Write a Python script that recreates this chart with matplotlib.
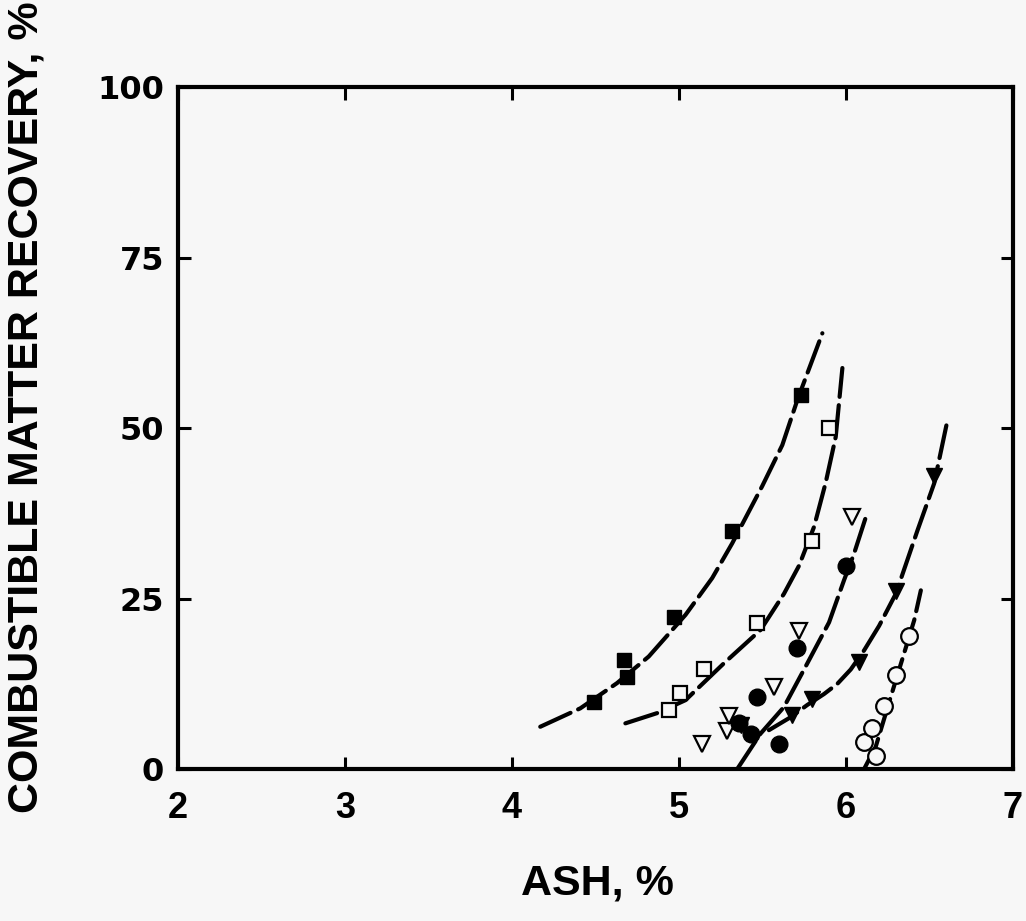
import matplotlib
matplotlib.use("Agg")
import matplotlib.pyplot as plt

# ---- data ----
sq_fill_x = [4.49, 4.67, 4.69, 4.97, 5.32, 5.73]
sq_fill_y = [9.8, 16.0, 13.5, 22.3, 34.9, 54.8]

sq_open_x = [4.94, 5.01, 5.15, 5.47, 5.80, 5.90]
sq_open_y = [8.7, 11.2, 14.6, 21.4, 33.5, 50.0]

tri_open_x = [5.14, 5.29, 5.30, 5.57, 5.72, 6.04]
tri_open_y = [3.6, 5.6, 7.8, 12.0, 20.2, 37.0]

circ_fill_x = [5.36, 5.43, 5.60, 5.47, 5.71, 6.00]
circ_fill_y = [6.8, 5.2, 3.6, 10.5, 17.7, 29.8]

tri_fill_x = [5.37, 5.68, 5.80, 6.08, 6.30, 6.53]
tri_fill_y = [6.5, 7.9, 10.3, 15.7, 26.1, 43.0]

circ_open_x = [6.11, 6.16, 6.18, 6.23, 6.30, 6.38]
circ_open_y = [4.0, 6.0, 1.9, 9.2, 13.8, 19.5]

# fitted curves
c1_x = [4.17, 4.41, 4.63, 4.82, 5.04, 5.20, 5.32, 5.50, 5.62, 5.71, 5.86]
c1_y = [6.2, 8.9, 12.6, 16.5, 22.6, 28.0, 33.1, 41.5, 47.5, 54.1, 63.9]
c2_x = [4.68, 4.87, 5.04, 5.27, 5.49, 5.63, 5.72, 5.81, 5.88, 5.94, 5.98]
c2_y = [6.7, 8.2, 10.1, 15.5, 20.4, 25.7, 29.8, 35.5, 42.0, 48.7, 58.8]
c3_x = [5.35, 5.49, 5.63, 5.77, 5.90, 5.99, 6.05, 6.12]
c3_y = [0.0, 5.2, 9.1, 15.5, 21.5, 27.7, 31.6, 36.9]
c4_x = [5.54, 5.67, 5.77, 5.87, 5.95, 6.03, 6.11, 6.20, 6.30, 6.43, 6.53, 6.61]
c4_y = [5.7, 7.6, 9.4, 11.0, 12.5, 14.6, 17.4, 21.0, 25.7, 35.0, 41.9, 51.2]
c5_x = [6.11, 6.18, 6.27, 6.35, 6.41, 6.45]
c5_y = [0.0, 3.3, 10.6, 17.0, 21.8, 26.2]

x_ticks = [2, 3, 4, 5, 6, 7]
y_ticks = [0, 25, 50, 75, 100]
x_label = "ASH, %"
y_label = "COMBUSTIBLE MATTER RECOVERY, %"

bg = "#f7f7f7"
fig = plt.figure(figsize=(10.26, 9.21), dpi=100, facecolor=bg)
ax = fig.add_axes([0.1735, 0.165, 0.8135, 0.7405], facecolor=bg)

line_kw = dict(color="black", lw=3.0, dashes=(8, 2), dash_capstyle="round")
for cx, cy in [(c1_x, c1_y), (c2_x, c2_y), (c3_x, c3_y), (c4_x, c4_y), (c5_x, c5_y)]:
    ax.plot(cx, cy, **line_kw)

ax.plot(sq_fill_x, sq_fill_y, "s", ms=10, mfc="black", mec="black", ls="none")
ax.plot(sq_open_x, sq_open_y, "s", ms=10, mfc=bg, mec="black", mew=1.6, ls="none")
ax.plot(tri_open_x, tri_open_y, "v", ms=12, mfc=bg, mec="black", mew=1.6, ls="none")
ax.plot(circ_fill_x, circ_fill_y, "o", ms=12, mfc="black", mec="black", ls="none")
ax.plot(tri_fill_x, tri_fill_y, "v", ms=11, mfc="black", mec="black", ls="none")
ax.plot(circ_open_x, circ_open_y, "o", ms=12, mfc=bg, mec="black", mew=1.6, ls="none")

ax.set_xlim(2, 7)
ax.set_ylim(0, 100)
ax.set_xticks(x_ticks)
ax.set_yticks(y_ticks)
ax.tick_params(direction="in", length=9, width=2.2, top=True, right=True)
ax.tick_params(axis="x", pad=16)
ax.tick_params(axis="y", pad=10)
for s in ax.spines.values():
    s.set_linewidth(3)

for t in ax.get_xticklabels():
    t.set_fontfamily("Liberation Sans")
    t.set_fontweight("bold")
    t.set_fontsize(26)
for t in ax.get_yticklabels():
    t.set_fontfamily("DejaVu Sans")
    t.set_fontweight("bold")
    t.set_fontsize(23)

ax.set_xlabel(x_label, fontsize=31, fontweight="bold", family="Liberation Sans")
ax.set_ylabel(y_label, fontsize=31, fontweight="bold", family="Liberation Sans")
ax.xaxis.set_label_coords(0.503, -0.138)
ax.yaxis.set_label_coords(-0.158, 0.53)

fig.savefig("out.png", dpi=100, facecolor=bg)
